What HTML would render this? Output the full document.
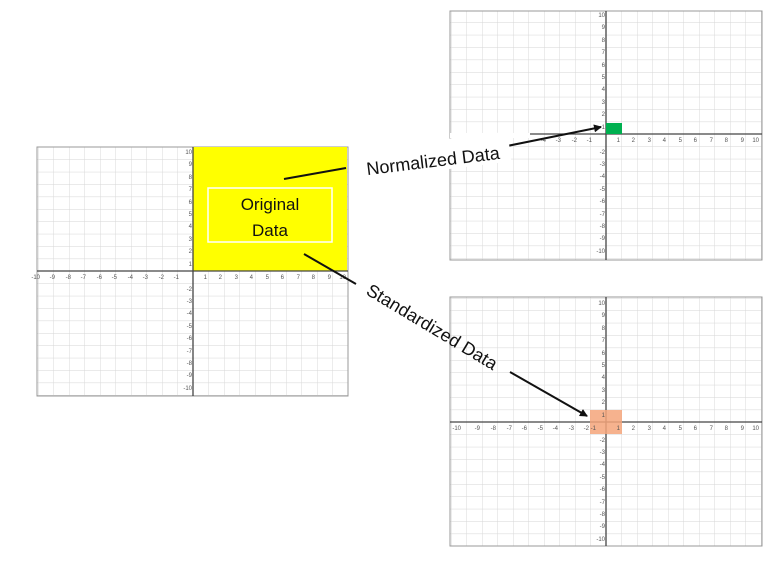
<!DOCTYPE html>
<html><head><meta charset="utf-8"><style>
html,body{margin:0;padding:0;background:#fff}
svg{display:block}
.t{font-family:"Liberation Sans",sans-serif;font-size:6px;fill:#555}
</style></head><body>
<svg width="780" height="563" viewBox="0 0 780 563" xmlns="http://www.w3.org/2000/svg">
<defs>
<pattern id="p" width="15.5" height="12.4" patternUnits="userSpaceOnUse">
<path d="M0 0H15.5M0 0V12.4" stroke="#d6d6d6" stroke-width="0.9" fill="none"/>
</pattern>
<marker id="ah" markerWidth="8" markerHeight="8" refX="7" refY="4" orient="auto" markerUnits="userSpaceOnUse">
<path d="M0 0L8 4L0 8Z" fill="#111"/>
</marker>
</defs>

<!-- LEFT GRID -->
<g transform="translate(193,271)">
<rect x="-156" y="-124" width="311" height="249" fill="url(#p)" stroke="#999" stroke-width="1"/>
<rect x="0" y="-124" width="154" height="124" fill="#ffff00"/>
<line x1="-156" y1="0" x2="155" y2="0" stroke="#444" stroke-width="1.3"/>
<line x1="0" y1="-124" x2="0" y2="125" stroke="#444" stroke-width="1.3"/>
<rect x="15" y="-83" width="124" height="54" fill="none" stroke="#fff" stroke-width="1.5"/>
<g class="t" text-anchor="end">
<text x="-153" y="8">-10</text><text x="-138" y="8">-9</text><text x="-122" y="8">-8</text><text x="-107" y="8">-7</text><text x="-91" y="8">-6</text><text x="-76" y="8">-5</text><text x="-60" y="8">-4</text><text x="-45" y="8">-3</text><text x="-29" y="8">-2</text><text x="-14" y="8">-1</text>
<text x="14" y="8">1</text><text x="29" y="8">2</text><text x="45" y="8">3</text><text x="60" y="8">4</text><text x="76" y="8">5</text><text x="91" y="8">6</text><text x="107" y="8">7</text><text x="122" y="8">8</text><text x="138" y="8">9</text><text x="153" y="8">10</text>
<text x="-1" y="-117">10</text><text x="-1" y="-105">9</text><text x="-1" y="-92">8</text><text x="-1" y="-80">7</text><text x="-1" y="-67">6</text><text x="-1" y="-55">5</text><text x="-1" y="-43">4</text><text x="-1" y="-30">3</text><text x="-1" y="-18">2</text><text x="-1" y="-5">1</text>
<text x="-1" y="20">-2</text><text x="-1" y="32">-3</text><text x="-1" y="44">-4</text><text x="-1" y="57">-5</text><text x="-1" y="69">-6</text><text x="-1" y="82">-7</text><text x="-1" y="94">-8</text><text x="-1" y="106">-9</text><text x="-1" y="119">-10</text>
</g>
</g>
<text x="270" y="210" text-anchor="middle" font-family="Liberation Sans, sans-serif" font-size="17" fill="#111">Original</text>
<text x="270" y="236" text-anchor="middle" font-family="Liberation Sans, sans-serif" font-size="17" fill="#111">Data</text>

<!-- TOP RIGHT GRID -->
<g transform="translate(606,134)">
<rect x="-156" y="-123" width="312" height="249" fill="url(#p)" stroke="#999" stroke-width="1"/>
<line x1="-156" y1="0" x2="156" y2="0" stroke="#444" stroke-width="1.3"/>
<line x1="0" y1="-123" x2="0" y2="126" stroke="#444" stroke-width="1.3"/>
<rect x="0" y="-11" width="16" height="11" fill="#00b050"/>
<rect x="-156" y="-1" width="80" height="5" fill="#fff"/>
<g class="t" text-anchor="end">
<text x="-60" y="8">-4</text><text x="-45" y="8">-3</text><text x="-29" y="8">-2</text><text x="-14" y="8">-1</text>
<text x="14" y="8">1</text><text x="29" y="8">2</text><text x="45" y="8">3</text><text x="60" y="8">4</text><text x="76" y="8">5</text><text x="91" y="8">6</text><text x="107" y="8">7</text><text x="122" y="8">8</text><text x="138" y="8">9</text><text x="153" y="8">10</text>
<text x="-1" y="-117">10</text><text x="-1" y="-105">9</text><text x="-1" y="-92">8</text><text x="-1" y="-80">7</text><text x="-1" y="-67">6</text><text x="-1" y="-55">5</text><text x="-1" y="-43">4</text><text x="-1" y="-30">3</text><text x="-1" y="-18">2</text><text x="-1" y="-5">1</text>
<text x="-1" y="20">-2</text><text x="-1" y="32">-3</text><text x="-1" y="44">-4</text><text x="-1" y="57">-5</text><text x="-1" y="69">-6</text><text x="-1" y="82">-7</text><text x="-1" y="94">-8</text><text x="-1" y="106">-9</text><text x="-1" y="119">-10</text>
</g>
</g>

<!-- BOTTOM RIGHT GRID -->
<g transform="translate(606,422)">
<rect x="-156" y="-125" width="312" height="249" fill="url(#p)" stroke="#999" stroke-width="1"/>
<line x1="-156" y1="0" x2="156" y2="0" stroke="#444" stroke-width="1.3"/>
<line x1="0" y1="-125" x2="0" y2="124" stroke="#444" stroke-width="1.3"/>
<rect x="-16" y="-12" width="32" height="24" fill="#f4a57a" fill-opacity="0.85"/>
<g class="t" text-anchor="end">
<text x="-145" y="8">-10</text><text x="-126" y="8">-9</text><text x="-110" y="8">-8</text><text x="-94" y="8">-7</text><text x="-79" y="8">-6</text><text x="-63" y="8">-5</text><text x="-48" y="8">-4</text><text x="-32" y="8">-3</text><text x="-17" y="8">-2</text><text x="-10" y="8">-1</text>
<text x="14" y="8">1</text><text x="29" y="8">2</text><text x="45" y="8">3</text><text x="60" y="8">4</text><text x="76" y="8">5</text><text x="91" y="8">6</text><text x="107" y="8">7</text><text x="122" y="8">8</text><text x="138" y="8">9</text><text x="153" y="8">10</text>
<text x="-1" y="-117">10</text><text x="-1" y="-105">9</text><text x="-1" y="-92">8</text><text x="-1" y="-80">7</text><text x="-1" y="-67">6</text><text x="-1" y="-55">5</text><text x="-1" y="-43">4</text><text x="-1" y="-30">3</text><text x="-1" y="-18">2</text><text x="-1" y="-5">1</text>
<text x="-1" y="20">-2</text><text x="-1" y="32">-3</text><text x="-1" y="44">-4</text><text x="-1" y="57">-5</text><text x="-1" y="69">-6</text><text x="-1" y="82">-7</text><text x="-1" y="94">-8</text><text x="-1" y="106">-9</text><text x="-1" y="119">-10</text>
</g>
</g>

<!-- Connectors -->
<line x1="284" y1="179" x2="346" y2="168" stroke="#111" stroke-width="2"/>
<line x1="507" y1="146" x2="601" y2="127" stroke="#111" stroke-width="2" marker-end="url(#ah)"/>
<line x1="304" y1="254" x2="356" y2="284" stroke="#111" stroke-width="2"/>
<line x1="510" y1="372" x2="587" y2="416" stroke="#111" stroke-width="2" marker-end="url(#ah)"/>

<!-- Labels -->
<rect x="355" y="141" width="155" height="30" fill="#fff" transform="rotate(-7 432 156)"/>
<text x="433" y="167" text-anchor="middle" font-family="Liberation Sans, sans-serif" font-size="18" fill="#111" transform="rotate(-7 433 161)">Normalized Data</text>
<text x="432" y="333" text-anchor="middle" font-family="Liberation Sans, sans-serif" font-size="18" fill="#111" transform="rotate(31 432 327)">Standardized Data</text>
</svg>
</body></html>
